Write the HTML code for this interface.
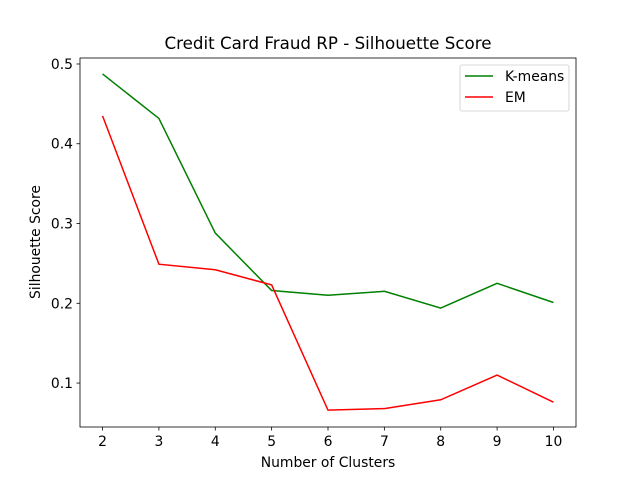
<!DOCTYPE html>
<html><head><meta charset="utf-8"><style>body{margin:0;background:#fff}svg{font-family:"DejaVu Sans","Liberation Sans",sans-serif}</style></head>
<body>
<svg id="c" width="640" height="480"></svg>
<script>
const categories=[2,3,4,5,6,7,8,9,10];
const kmeans=[0.4875,0.4317,0.288,0.216,0.21,0.215,0.194,0.225,0.201];
const em=[0.435,0.249,0.242,0.223,0.066,0.068,0.079,0.11,0.076];
const yTicks=[0.1,0.2,0.3,0.4,0.5];
const yTickLabels=["0.1","0.2","0.3","0.4","0.5"];
const L=80,R=576,T=58,B=427;
const xMin=1.6,xMax=10.4,yMin=0.0449,yMax=0.5075;
const sx=v=>L+(v-xMin)/(xMax-xMin)*(R-L);
const sy=v=>B-(v-yMin)/(yMax-yMin)*(B-T);
const svg=document.getElementById('c');
const NS='http://www.w3.org/2000/svg';
function mk(t,a,p){const e=document.createElementNS(NS,t);for(const k in a)e.setAttribute(k,a[k]);(p||svg).appendChild(e);return e;}
let e;
e=mk('rect',{x:0,y:0,width:640,height:480,fill:'#fff'});


function series(vals,color,name){
 const pts=vals.map((v,i)=>sx(categories[i])+','+sy(v)).join(' ');
 const p=mk('polyline',{points:pts,fill:'none',stroke:color,'stroke-width':1.5});
 
 
}
series(kmeans,'green','kmeans-line');
series(em,'red','em-line');
e=mk('rect',{x:L,y:T,width:R-L,height:B-T,fill:'none',stroke:'#000','stroke-width':0.8});


categories.forEach(c=>{
 const x=sx(c);
 mk('line',{x1:x,x2:x,y1:B,y2:B+3.5,stroke:'#000','stroke-width':0.8});
 const t=mk('text',{x:x,y:B+19,'font-size':13.9,'text-anchor':'middle'});t.textContent=c;
 
 
});
yTicks.forEach((v,i)=>{
 const y=sy(v);
 mk('line',{x1:L-3.5,x2:L,y1:y,y2:y,stroke:'#000','stroke-width':0.8});
 const t=mk('text',{x:L-7,y:y+5,'font-size':13.9,'text-anchor':'end'});t.textContent=yTickLabels[i];
 
 
});
e=mk('text',{x:328,y:467,'font-size':13.9,'text-anchor':'middle'});e.textContent='Number of Clusters';


e=mk('text',{x:40,y:242,'font-size':13.9,'text-anchor':'middle',transform:'rotate(-90 40 242)'});e.textContent='Silhouette Score';


e=mk('text',{x:328,y:49,'font-size':16.7,'text-anchor':'middle'});e.textContent='Credit Card Fraud RP - Silhouette Score';


const g=mk('g',{});


mk('rect',{x:460,y:65,width:109,height:46,rx:2,fill:'#fff',stroke:'#ccc','stroke-width':0.8},g);
mk('line',{x1:465,x2:493,y1:76,y2:76,stroke:'green','stroke-width':1.5},g);
e=mk('text',{x:505,y:81,'font-size':13.9},g);e.textContent='K-means';


mk('line',{x1:465,x2:493,y1:97,y2:97,stroke:'red','stroke-width':1.5},g);
e=mk('text',{x:505,y:102,'font-size':13.9},g);e.textContent='EM';


</script>
</body></html>
